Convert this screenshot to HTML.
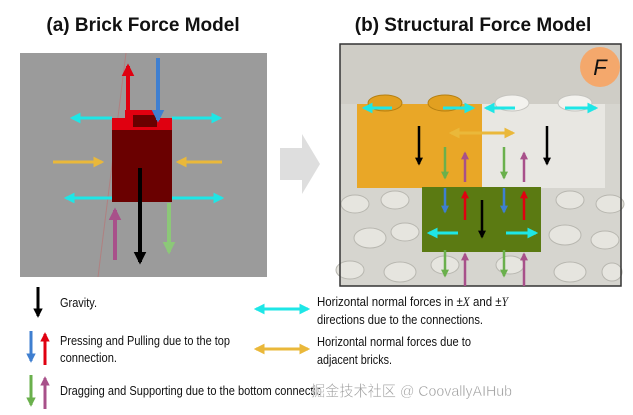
<!DOCTYPE html>
<html><head><meta charset="utf-8"><style>
html,body{margin:0;padding:0;background:#fff;}
svg{display:block;}
text{font-family:"Liberation Sans","Noto Sans CJK SC",sans-serif;}
</style></head><body>
<svg width="633" height="415" viewBox="0 0 633 415" xmlns="http://www.w3.org/2000/svg">
<defs>
<marker id="mk" viewBox="0 0 10 10" refX="8" refY="5" markerWidth="3.2" markerHeight="3.2" orient="auto-start-reverse"><path d="M0,0 L10,5 L0,10 z" fill="#000"/></marker>
<marker id="mr" viewBox="0 0 10 10" refX="8" refY="5" markerWidth="3.2" markerHeight="3.2" orient="auto-start-reverse"><path d="M0,0 L10,5 L0,10 z" fill="#e00010"/></marker>
<marker id="mb" viewBox="0 0 10 10" refX="8" refY="5" markerWidth="3.2" markerHeight="3.2" orient="auto-start-reverse"><path d="M0,0 L10,5 L0,10 z" fill="#3f7fd0"/></marker>
<marker id="mc" viewBox="0 0 10 10" refX="8" refY="5" markerWidth="3.6" markerHeight="3.6" orient="auto-start-reverse"><path d="M0,0 L10,5 L0,10 z" fill="#1ee6e6"/></marker>
<marker id="my" viewBox="0 0 10 10" refX="8" refY="5" markerWidth="3.6" markerHeight="3.6" orient="auto-start-reverse"><path d="M0,0 L10,5 L0,10 z" fill="#eab83a"/></marker>
<marker id="mg" viewBox="0 0 10 10" refX="8" refY="5" markerWidth="3.2" markerHeight="3.2" orient="auto-start-reverse"><path d="M0,0 L10,5 L0,10 z" fill="#6ab04c"/></marker>
<marker id="mg2" viewBox="0 0 10 10" refX="8" refY="5" markerWidth="3.2" markerHeight="3.2" orient="auto-start-reverse"><path d="M0,0 L10,5 L0,10 z" fill="#8cc878"/></marker>
<marker id="mp" viewBox="0 0 10 10" refX="8" refY="5" markerWidth="3.2" markerHeight="3.2" orient="auto-start-reverse"><path d="M0,0 L10,5 L0,10 z" fill="#a8508a"/></marker>
</defs>

<text x="143" y="31" font-size="19" font-weight="bold" text-anchor="middle" fill="#111">(a) Brick Force Model</text>
<text x="473" y="31" font-size="19" font-weight="bold" text-anchor="middle" fill="#111">(b) Structural Force Model</text>

<rect x="20" y="53" width="247" height="224" fill="#9b9b9b"/>
<line x1="126" y1="53" x2="98" y2="277" stroke="#b08080" stroke-width="1"/>
<rect x="112" y="126" width="60" height="76" fill="#6a0000"/>
<rect x="112" y="118" width="60" height="12" fill="#e00010"/>
<rect x="125" y="110" width="32" height="17" fill="#e00010"/>
<rect x="133" y="115" width="24" height="12" fill="#6a0000"/>
<line x1="128" y1="112" x2="128" y2="66" stroke="#e00010" stroke-width="4" marker-end="url(#mr)"/>
<line x1="158" y1="58" x2="158" y2="120" stroke="#3f7fd0" stroke-width="4" marker-end="url(#mb)"/>
<line x1="112" y1="118" x2="72" y2="118" stroke="#1ee6e6" stroke-width="3" marker-end="url(#mc)"/>
<line x1="172" y1="118" x2="220" y2="118" stroke="#1ee6e6" stroke-width="3" marker-end="url(#mc)"/>
<line x1="53" y1="162" x2="102" y2="162" stroke="#eab83a" stroke-width="3" marker-end="url(#my)"/>
<line x1="222" y1="162" x2="178" y2="162" stroke="#eab83a" stroke-width="3" marker-end="url(#my)"/>
<line x1="112" y1="198" x2="66" y2="198" stroke="#1ee6e6" stroke-width="3" marker-end="url(#mc)"/>
<line x1="172" y1="198" x2="222" y2="198" stroke="#1ee6e6" stroke-width="3" marker-end="url(#mc)"/>
<line x1="115" y1="260" x2="115" y2="210" stroke="#a8508a" stroke-width="4" marker-end="url(#mp)"/>
<line x1="140" y1="168" x2="140" y2="262" stroke="#000" stroke-width="4" marker-end="url(#mk)"/>
<line x1="169" y1="203" x2="169" y2="252" stroke="#8cc878" stroke-width="4" marker-end="url(#mg2)"/>

<polygon points="280,148 302,148 302,134 320,164 302,194 302,180 280,180" fill="#dedede"/>

<rect x="340" y="44" width="281" height="242" fill="#d6d5cf"/>
<rect x="340" y="44" width="281" height="60" fill="#cfcdc6"/>
<g fill="#e6e5df" stroke="#b8b7b0" stroke-width="1">
<ellipse cx="355" cy="204" rx="14" ry="9"/><ellipse cx="395" cy="200" rx="14" ry="9"/>
<ellipse cx="570" cy="200" rx="14" ry="9"/><ellipse cx="610" cy="204" rx="14" ry="9"/>
<ellipse cx="370" cy="238" rx="16" ry="10"/><ellipse cx="405" cy="232" rx="14" ry="9"/>
<ellipse cx="565" cy="235" rx="16" ry="10"/><ellipse cx="605" cy="240" rx="14" ry="9"/>
<ellipse cx="350" cy="270" rx="14" ry="9"/><ellipse cx="400" cy="272" rx="16" ry="10"/>
<ellipse cx="570" cy="272" rx="16" ry="10"/><ellipse cx="612" cy="272" rx="10" ry="9"/>
<ellipse cx="445" cy="265" rx="14" ry="9"/><ellipse cx="510" cy="265" rx="14" ry="9"/>
</g>
<rect x="357" y="104" width="125" height="84" fill="#e9a727"/>
<rect x="482" y="104" width="123" height="84" fill="#e8e7e2"/>
<ellipse cx="385" cy="103" rx="17" ry="8" fill="#e2a020" stroke="#b57f10"/>
<ellipse cx="445" cy="103" rx="17" ry="8" fill="#e2a020" stroke="#b57f10"/>
<ellipse cx="512" cy="103" rx="17" ry="8" fill="#f3f2ee" stroke="#c5c4bf"/>
<ellipse cx="575" cy="103" rx="17" ry="8" fill="#f3f2ee" stroke="#c5c4bf"/>
<rect x="422" y="187" width="119" height="65" fill="#5b7a12"/>
<rect x="340" y="44" width="281" height="242" fill="none" stroke="#333" stroke-width="1.5"/>
<circle cx="600" cy="67" r="20" fill="#f4a86c"/>
<text x="600" y="75" font-size="22" font-style="italic" text-anchor="middle" fill="#111" font-family="Liberation Serif,serif">F</text>

<g stroke-width="3">
<line x1="392" y1="108" x2="364" y2="108" stroke="#1ee6e6" marker-end="url(#mc)"/>
<line x1="443" y1="108" x2="473" y2="108" stroke="#1ee6e6" marker-end="url(#mc)"/>
<line x1="515" y1="108" x2="486" y2="108" stroke="#1ee6e6" marker-end="url(#mc)"/>
<line x1="565" y1="108" x2="596" y2="108" stroke="#1ee6e6" marker-end="url(#mc)"/>
<line x1="451" y1="133" x2="513" y2="133" stroke="#eab83a" marker-start="url(#my)" marker-end="url(#my)"/>
<line x1="458" y1="233" x2="429" y2="233" stroke="#1ee6e6" marker-end="url(#mc)"/>
<line x1="506" y1="233" x2="536" y2="233" stroke="#1ee6e6" marker-end="url(#mc)"/>
</g>
<g stroke-width="2.5">
<line x1="419" y1="126" x2="419" y2="164" stroke="#000" marker-end="url(#mk)"/>
<line x1="547" y1="126" x2="547" y2="164" stroke="#000" marker-end="url(#mk)"/>
<line x1="482" y1="200" x2="482" y2="237" stroke="#000" marker-end="url(#mk)"/>
<line x1="445" y1="147" x2="445" y2="178" stroke="#6ab04c" marker-end="url(#mg)"/>
<line x1="504" y1="147" x2="504" y2="178" stroke="#6ab04c" marker-end="url(#mg)"/>
<line x1="465" y1="182" x2="465" y2="153" stroke="#a8508a" marker-end="url(#mp)"/>
<line x1="524" y1="182" x2="524" y2="153" stroke="#a8508a" marker-end="url(#mp)"/>
<line x1="445" y1="188" x2="445" y2="212" stroke="#3f7fd0" marker-end="url(#mb)"/>
<line x1="504" y1="188" x2="504" y2="212" stroke="#3f7fd0" marker-end="url(#mb)"/>
<line x1="465" y1="220" x2="465" y2="192" stroke="#e00010" marker-end="url(#mr)"/>
<line x1="524" y1="220" x2="524" y2="192" stroke="#e00010" marker-end="url(#mr)"/>
<line x1="445" y1="250" x2="445" y2="276" stroke="#6ab04c" marker-end="url(#mg)"/>
<line x1="504" y1="250" x2="504" y2="276" stroke="#6ab04c" marker-end="url(#mg)"/>
<line x1="465" y1="286" x2="465" y2="254" stroke="#a8508a" marker-end="url(#mp)"/>
<line x1="524" y1="286" x2="524" y2="254" stroke="#a8508a" marker-end="url(#mp)"/>
</g>

<g stroke-width="3">
<line x1="38" y1="287" x2="38" y2="316" stroke="#000" marker-end="url(#mk)"/>
<line x1="31" y1="331" x2="31" y2="361" stroke="#3f7fd0" marker-end="url(#mb)"/>
<line x1="45" y1="365" x2="45" y2="334" stroke="#e00010" marker-end="url(#mr)"/>
<line x1="31" y1="375" x2="31" y2="405" stroke="#6ab04c" marker-end="url(#mg)"/>
<line x1="45" y1="409" x2="45" y2="378" stroke="#a8508a" marker-end="url(#mp)"/>
<line x1="256" y1="309" x2="308" y2="309" stroke="#1ee6e6" marker-start="url(#mc)" marker-end="url(#mc)"/>
<line x1="256" y1="349" x2="308" y2="349" stroke="#eab83a" marker-start="url(#my)" marker-end="url(#my)"/>
</g>
<g font-size="13" fill="#111">
<text x="60" y="307" textLength="37" lengthAdjust="spacingAndGlyphs">Gravity.</text>
<text x="60" y="345" textLength="170" lengthAdjust="spacingAndGlyphs">Pressing and Pulling due to the top</text>
<text x="60" y="362" textLength="57" lengthAdjust="spacingAndGlyphs">connection.</text>
<text x="60" y="395" textLength="262" lengthAdjust="spacingAndGlyphs">Dragging and Supporting due to the bottom connectio</text>
<text x="317" y="306" textLength="191" lengthAdjust="spacingAndGlyphs">Horizontal normal forces in ±<tspan font-style="italic" font-family="Liberation Serif,serif">X</tspan> and ±<tspan font-style="italic" font-family="Liberation Serif,serif">Y</tspan></text>
<text x="317" y="324" textLength="166" lengthAdjust="spacingAndGlyphs">directions due to the connections.</text>
<text x="317" y="346" textLength="154" lengthAdjust="spacingAndGlyphs">Horizontal normal forces due to</text>
<text x="317" y="364" textLength="75" lengthAdjust="spacingAndGlyphs">adjacent bricks.</text>
</g>
<text x="311" y="396" font-size="15" fill="#9a9a9a" stroke="#fff" stroke-width="0.4" textLength="201" lengthAdjust="spacingAndGlyphs">掘金技术社区 @ CoovallyAIHub</text>
</svg>
</body></html>
